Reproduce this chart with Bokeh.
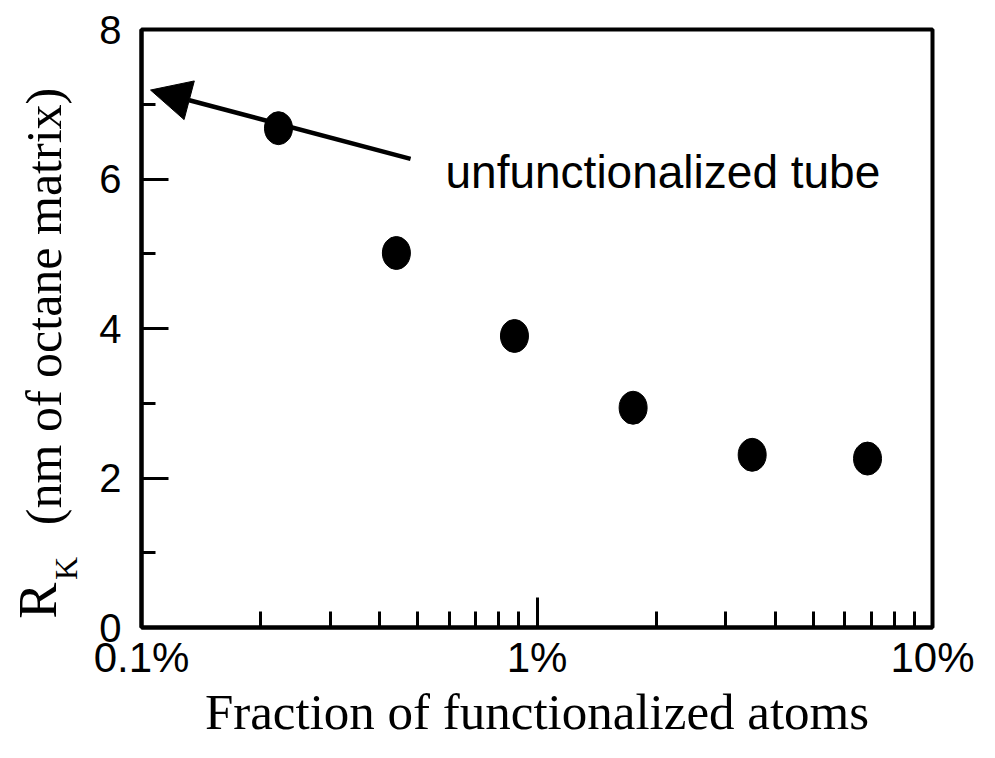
import math
from bokeh.plotting import figure
from bokeh.layouts import row
from bokeh.models import (FixedTicker, CustomJSTickFormatter, Label, Arrow,
                          NormalHead, Range1d)
from bokeh.embed import file_html
from bokeh.resources import INLINE

# ---- data ----
fraction_pct = [0.222, 0.441, 0.877, 1.75, 3.50, 6.85]   # % functionalized atoms
rk_nm = [6.68, 5.01, 3.90, 2.94, 2.31, 2.26]            # R_K (nm of octane matrix)

x_major_ticks = [0.1, 1, 10]
x_minor_ticks = [0.2, 0.3, 0.4, 0.5, 0.6, 0.7, 0.8, 0.9,
                 2, 3, 4, 5, 6, 7, 8, 9]
y_major_ticks = [0, 2, 4, 6, 8]
y_minor_ticks = [1, 3, 5, 7]

arrow_tail = (0.479, 6.27)
arrow_tip = (0.1054, 7.19)
annotation_text = "unfunctionalized  tube"
annotation_pos = (0.587, 6.09)

x_label = "Fraction of functionalized atoms"
y_label_main = "R"
y_label_sub = "K"
y_label_rest = "(nm of octane matrix)"

SANS = "Liberation Sans"
SERIF = "Liberation Serif"

# ---- layout sizes (pixels) ----
TOTAL_W, TOTAL_H = 979, 742
YLAB_W = 90                 # strip left of the plot holding the y label
MAIN_W = TOTAL_W - YLAB_W

# ---- main plot ----
p = figure(width=MAIN_W, height=TOTAL_H, x_axis_type="log",
           x_range=Range1d(0.1, 10), y_range=Range1d(0, 8),
           output_backend="svg", toolbar_location=None,
           min_border_left=141 - YLAB_W, min_border_right=47,
           min_border_top=29, min_border_bottom=TOTAL_H - 627)

p.background_fill_color = "white"
p.border_fill_color = "white"
p.xgrid.visible = False
p.ygrid.visible = False
p.outline_line_color = "black"
p.outline_line_width = 4
p.outline_line_alpha = 1.0

p.xaxis.ticker = FixedTicker(ticks=x_major_ticks, minor_ticks=x_minor_ticks)
p.xaxis.formatter = CustomJSTickFormatter(code="return tick + '%';")
p.yaxis.ticker = FixedTicker(ticks=y_major_ticks, minor_ticks=y_minor_ticks)

for ax in (p.xaxis[0], p.yaxis[0]):
    ax.axis_line_color = "black"
    ax.axis_line_width = 4
    ax.major_tick_line_color = "black"
    ax.minor_tick_line_color = "black"
    ax.major_tick_line_width = 3
    ax.minor_tick_line_width = 3
    ax.major_tick_out = 0
    ax.minor_tick_out = 0
    ax.major_label_text_color = "black"
    ax.major_label_text_font = SANS

p.xaxis.major_tick_in = 30
p.xaxis.minor_tick_in = 16
p.yaxis.major_tick_in = 27
p.yaxis.minor_tick_in = 14

p.xaxis.major_label_text_font_size = "42px"
p.xaxis.major_label_standoff = 6
p.yaxis.major_label_text_font_size = "40px"
p.yaxis.major_label_standoff = 20

p.xaxis.axis_label = x_label
p.xaxis.axis_label_text_font = SERIF
p.xaxis.axis_label_text_font_size = "51px"
p.xaxis.axis_label_text_font_style = "normal"
p.xaxis.axis_label_text_color = "black"
p.xaxis.axis_label_standoff = 0

# data points
p.ellipse(x=fraction_pct, y=rk_nm, width=28, height=33,
          width_units="screen", height_units="screen",
          fill_color="black", line_color="black")

# arrow pointing to the unfunctionalized tube value
p.add_layout(Arrow(end=NormalHead(size=40, fill_color="black", fill_alpha=1.0,
                                  line_color="black", line_width=1),
                   x_start=arrow_tail[0], y_start=arrow_tail[1],
                   x_end=arrow_tip[0], y_end=arrow_tip[1],
                   line_color="black", line_width=4.5))

p.add_layout(Label(x=annotation_pos[0], y=annotation_pos[1], text=annotation_text,
                   text_font=SANS, text_font_size="46px", text_color="black",
                   text_baseline="alphabetic", text_align="left"))


def strip(width, height):
    f = figure(width=width, height=height, x_range=Range1d(0, width),
               y_range=Range1d(0, height), output_backend="svg",
               toolbar_location=None, x_axis_location=None,
               y_axis_location=None, min_border=0,
               min_border_left=0, min_border_right=0,
               min_border_top=0, min_border_bottom=0)
    f.grid.visible = False
    f.outline_line_color = None
    f.background_fill_color = "white"
    f.border_fill_color = "white"
    return f


# ---- y-axis label strip: R with subscript K, rotated ----
ylab = strip(YLAB_W, TOTAL_H)
rot = math.pi / 2
ylab.add_layout(Label(x=37, y=11, text=y_label_main, angle=rot,
                      text_font=SERIF, text_font_size="54px", text_color="black",
                      text_baseline="alphabetic", text_align="left"))
ylab.add_layout(Label(x=65, y=59, text=y_label_sub, angle=rot,
                      text_font=SERIF, text_font_size="32px", text_color="black",
                      text_baseline="alphabetic", text_align="left"))
ylab.add_layout(Label(x=43, y=127, text=y_label_rest, angle=rot,
                      text_font=SERIF, text_font_size="50px", text_color="black",
                      text_baseline="alphabetic", text_align="left"))

layout = row(ylab, p, spacing=0)

open("out.html", "w").write(file_html(layout, INLINE))
